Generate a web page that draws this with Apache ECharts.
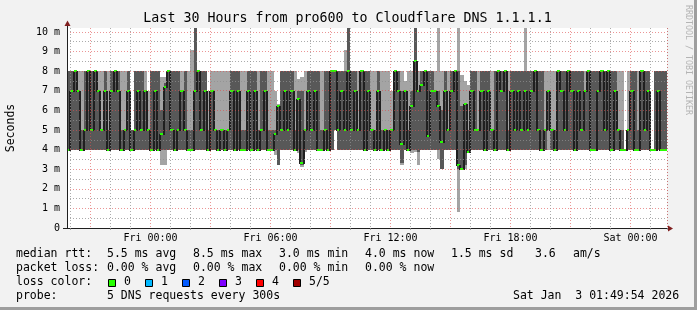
<!DOCTYPE html>
<html><head><meta charset="utf-8">
<script src="https://cdn.jsdelivr.net/npm/echarts@6.0.0/dist/echarts.min.js"></script>
<style>html,body{margin:0;padding:0;background:#f2f2f2;overflow:hidden}#chart{width:697px;height:310px}</style>
</head><body><div id="chart"></div>
<script>
// ---------- data (10-minute slots, Thu 19:50 .. Sat 01:50) ----------
const lo = [
4,4,4,4,4,4,4,4,4,4, 4,4,4,4,4,4,4,4,4,4, 4,4,4,4,4,4,4,4,3.2,3.2, 4,4,4,4,4,4,4,4,4,4,
4,4,4,4,4,4,4,4,4,4, 4,4,4,4,4,4,4,4,4,4, 4,4,3.7,3.2,4,4,4,4,4,3.8, 3.1,3.9,4,4,4,4,4,4,4,4,
5,4,4,4,4,4,4,4,4,4, 4,4,4,4,4,4,4,4,4,4, 3.2,4,4,3.8,3.9,3.2,4,4,4,4, 4,3.5,3,4,4,4,4,0.8,3,3,
3.8,4,4,4,4,4,4,4,4,4, 4,4,4,4,4,4,4,4,4,4, 4,4,4,4,4,4,4,4,4,4, 4,4,4,4,4,4,4,4,4,4,
4,4,4,4,4,4,4,4,4,4, 4,4,4,4,4,4,4,4,4,4];
const q1 = [
4,4,4,4,4,4,4,4,4,4, 4,4,4,4,4,4,4,4,4,4, 4,4,4,4,4,4,4,4,4,4, 4,4,4,4,4,4,4,4,4,4,
4,4,4,4,4,4,4,4,4,4, 4,4,4,4,4,4,4,4,4,4, 4,4,4,3.2,4,4,4,4,4,4, 3.2,4,4,4,4,4,4,4,4,4,
5,4,4,4,4,4,4,4,4,4, 4,4,4,4,4,4,4,4,4,4, 3.3,4,4,4,4,3.9,4,4,4,4, 4,4,3,4,4,4,4,3,3,3.2,
3.9,4,4,4,4,4,4,4,4,4, 4,4,4,4,4,4,4,4,4,4, 4,4,4,4,5,4,4,4,4,4, 4,4,4,4,4,4,4,4,4,4,
4,4,4,4,4,4,4,4,4,4, 4,4,4,4,4,4,4,4,4,4];
const med = [
4,7,8,7,4,5,8,5,8,7, 5,7,4,7,8,7,4,5,7,4, 5,7,5,7,5,4,7,4,4.8,7.2, 8,5,4,5,7,5,4,4,7,8,
5,7,4,7,5,4,5,4,5,7, 4,7,4,4,7,4,7,4,5,7, 4,4,4.8,6.2,5,7,5,7,4,6.6, 3.3,5,7,5,7,4,4,5,4,8,
8,5,7,5,8,5,7,5,8,4, 7,5,4,7,4,5,4,5,8,7, 4.3,7,4,6.2,8.5,7,7.3,8,4.7,7, 7,6.2,4.4,7,5,7,8,3.2,3,6.3,
3.9,7,5,5,7,4,7,5,4,8, 7,8,4,7,5,7,5,7,5,7, 8,5,4,5,7,5,4,8,7,5, 8,7,4,7,5,7,8,4,4,7,
8,5,8,4,7,5,4,4,5,7, 4,4,8,5,7,4,4,7,4,4];
const q3 = [
8,8,8,7,5,8,8,8,8,7, 5,8,5,8,8,8,5,5,8,5, 8,8,8,7,5,8,8,8,6,7.4, 8,8,8,8,7,8,5,5,10.2,8,
8,8,5,7,5,5,5,5,5,8, 8,8,5,5,8,8,8,5,8,8, 5,5,5,6.2,8,8,8,8,5,7, 7,5,8,8,8,8,5,8,8,8,
8,8,8,8,10.2,8,8,5,8,8, 8,5,5,8,5,5,5,5,8,8, 7,7,5,7,10.2,7,8,8,8,8, 7,7,6,8,5,8,8,8,6.2,6.3,
5,8,8,5,8,8,8,5,8,8, 8,8,5,8,8,8,8,8,8,8, 8,8,8,5,7,5,5,8,8,8, 8,8,8,8,8,7,8,8,8,8,
8,8,8,8,8,5,5,4,5,8, 8,5,8,8,8,4,8,8,8,8];
const hi = [
8,8,8,8,8,8,8,8,8,8, 8,8,8,8,8,8,8,8,8,5, 8,8,8,8,7,8,8,8,7.7,7.7, 8,8,8,8,8,8,8,9.1,10.2,8,
8,8,7,8,8,8,8,8,8,8, 8,8,8,8,8,8,8,8,8,8, 8,8,7,6.3,8,8,8,8,8,7.6, 7.7,8,8,8,8,8,8,8,8,8,
8,8,8,9.1,10.2,8,8,8,8,8, 8,8,8,8,8,8,8,7,8,8, 8,7.5,8,8,10.2,8,8,8,8,8, 8,10.2,8,8,8,8,8,10.2,7.8,7.5,
7.3,8,8,8,8,8,8,8,8,8, 8,8,8,8,8,8,8,10.2,8,8, 8,8,8,8,8,8,8,8,8,8, 8,8,8,8,8,8,8,8,8,8,
8,8,8,8,8,8,8,4,8,8, 8,8,8,8,8,4,8,8,8,8];

const tickLabels = ['Fri 00:00','Fri 06:00','Fri 12:00','Fri 18:00','Sat 00:00'];
const yTickLabels = ['0','1 m','2 m','3 m','4 m','5 m','6 m','7 m','8 m','9 m','10 m'];
const titleText = 'Last 30 Hours from pro600 to Cloudflare DNS 1.1.1.1';
const rttStats = ['5.5 ms avg','8.5 ms max','3.0 ms min','4.0 ms now','1.5 ms sd','3.6','am/s'];
const lossStats = ['0.00 % avg','0.00 % max','0.00 % min','0.00 % now'];
const lossLabels = ['0','1','2','3','4','5/5'];
const lossColors = ['#26ff00','#00b8ff','#0059ff','#7e00ff','#ff0000','#a10000'];
const probeText = '5 DNS requests every 300s';
const stampText = 'Sat Jan  3 01:49:54 2026';
const minorY = [0.5,1.5,2.5,3.5,4.5,5.5,6.5,7.5,8.5,9.5];

// ---------- categories (slot start times) ----------
const days = ['Thu','Fri','Sat'];
const startMin = 19*60 + 50;
const pad = n => (n < 10 ? '0' : '') + n;
const categories = lo.map((_, i) => {
  const m = startMin + 10*i;
  const d = Math.floor(m / 1440), r = m % 1440;
  return days[d] + ' ' + pad(Math.floor(r/60)) + ':' + pad(r % 60);
});

const MONO = 'DejaVu Sans Mono';
const GRID_MINOR = 'rgba(143,143,143,0.75)';
const GRID_MAJOR = 'rgba(222,79,79,0.6)';
const isHour = v => typeof v === 'string' && v.endsWith(':00');
const hourOf = v => parseInt(v.slice(4,6), 10);
const minorHour = (i, v) => isHour(v) && hourOf(v) % 3 !== 0;
const majorHour = (i, v) => isHour(v) && hourOf(v) % 3 === 0;

const smokeData = lo.map((_, i) => [i, lo[i], q1[i], q3[i], hi[i]]);
const medData = med.map((v, i) => [i, v, i > 0 ? med[i-1] : v]);

function renderSmoke(params, api) {
  const i = api.value(0);
  const bw = api.size([1, 0])[0];
  const cx = api.coord([i, 0])[0];
  const x0 = Math.round(cx - bw/2), x1 = Math.round(cx + bw/2);
  const y = v => Math.round(api.coord([i, v])[1]);
  const yLo = y(api.value(1)), yQ1 = y(api.value(2)), yQ3 = y(api.value(3)), yHi = y(api.value(4));
  return {type:'group', children:[
    {type:'rect', shape:{x:x0, y:yHi, width:x1-x0, height:yLo-yHi}, style:{fill:'#a4a4a4'}},
    {type:'rect', shape:{x:x0, y:yQ3, width:x1-x0, height:yQ1-yQ3}, style:{fill:'#585858'}}
  ]};
}
function renderMedian(params, api) {
  const i = api.value(0);
  const bw = api.size([1, 0])[0];
  const c = api.coord([i, api.value(1)]);
  const p = api.coord([i, api.value(2)]);
  const x0 = Math.round(c[0] - bw/2), x1 = Math.round(c[0] + bw/2);
  const y = Math.round(c[1]), yp = Math.round(p[1]);
  const kids = [];
  if (y !== yp) kids.push({type:'rect', shape:{x:x0-1, y:Math.min(y, yp), width:2, height:Math.abs(y-yp)+1}, style:{fill:'#202020'}});
  kids.push({type:'rect', shape:{x:x0, y:y-1, width:x1-x0, height:2}, style:{fill:'#26ff00'}});
  return {type:'group', children:kids};
}

function txt(x, y, s, extra) {
  return {type:'text', x:x, y:y, silent:true, style:Object.assign({
    text:s, fill:'#000', font:'11.5px "' + MONO + '"', align:'left', verticalAlign:'middle',
    textAlign:'left', textVerticalAlign:'middle'}, extra || {})};
}

const rttX = [107,193,279,365,451,535,573];
const lossX = [107,193,279,365];
const graphics = [
  {type:'rect', shape:{x:694, y:0, width:3, height:310}, style:{fill:'#9e9e9e'}, silent:true},
  {type:'rect', shape:{x:0, y:307, width:697, height:3}, style:{fill:'#9e9e9e'}, silent:true},
  {type:'text', x:347.5, y:18.5, silent:true, style:{text:titleText, fill:'#000', font:'13.3px "'+MONO+'"', align:'center', verticalAlign:'middle', textAlign:'center', textVerticalAlign:'middle'}},
  {type:'text', x:11, y:128, rotation:Math.PI/2, silent:true, style:{text:'Seconds', fill:'#000', font:'11.5px "'+MONO+'"', align:'center', verticalAlign:'middle', textAlign:'center', textVerticalAlign:'middle'}},
  {type:'text', x:688, y:5, rotation:-Math.PI/2, silent:true, style:{text:'RRDTOOL / TOBI OETIKER', fill:'#b4b4b4', font:'8.3px "'+MONO+'"', align:'left', verticalAlign:'middle', textAlign:'left', textVerticalAlign:'middle'}},
  {type:'rect', shape:{x:63, y:228, width:4, height:1}, style:{fill:'#1f1f1f'}, silent:true},
  {type:'rect', shape:{x:667, y:228, width:2, height:1}, style:{fill:'#1f1f1f'}, silent:true},
  {type:'rect', shape:{x:67, y:23, width:1, height:6}, style:{fill:'#1f1f1f'}, silent:true},
  {type:'polygon', shape:{points:[[668,225.5],[673,228.5],[668,231.5]]}, style:{fill:'#801f1f'}, silent:true},
  {type:'polygon', shape:{points:[[64.5,26],[67.5,20.5],[70.5,26]]}, style:{fill:'#801f1f'}, silent:true},
  txt(16, 254.5, 'median rtt:'),
  txt(16, 268.5, 'packet loss:'),
  txt(16, 282.5, 'loss color:'),
  txt(16, 296.5, 'probe:'),
  txt(107, 296.5, probeText),
  txt(513, 296.5, stampText)
];
rttStats.forEach((s, k) => graphics.push(txt(rttX[k], 254.5, s)));
lossStats.forEach((s, k) => graphics.push(txt(lossX[k], 268.5, s)));
lossLabels.forEach((s, k) => {
  const bx = 108 + 37*k;
  graphics.push({type:'rect', shape:{x:bx+0.5, y:279.5, width:7, height:7}, style:{fill:lossColors[k], stroke:'#000', lineWidth:1}, silent:true});
  graphics.push(txt(bx + 16, 282.5, s));
});

const option = {
  animation: false,
  backgroundColor: '#f2f2f2',
  grid: {left:67, top:28, width:600, height:200, show:true, backgroundColor:'#ffffff', borderWidth:0, borderColor:'transparent'},
  xAxis: [
    {type:'category', data:categories, boundaryGap:true, position:'bottom', z:10,
     axisLine:{show:true, onZero:false, lineStyle:{color:'#1f1f1f', width:1}},
     axisTick:{show:true, length:2, interval:minorHour, lineStyle:{color:GRID_MINOR}},
     axisLabel:{show:true, interval:(i, v) => tickLabels.indexOf(v) >= 0, formatter:v => v,
                fontFamily:MONO, fontSize:10, color:'#000', margin:5, padding:[0,3,0,0]},
     splitLine:{show:true, interval:minorHour, lineStyle:{color:GRID_MINOR, width:1, type:[1,2]}}},
    {type:'category', data:categories, boundaryGap:true, position:'top', z:10,
     axisLine:{show:false}, axisLabel:{show:false}, axisTick:{show:false},
     splitLine:{show:true, interval:majorHour, lineStyle:{color:GRID_MAJOR, width:1, type:[1,2]}}}
  ],
  yAxis: [
    {type:'value', min:0, max:10.2, interval:1, z:10,
     axisLine:{show:true, lineStyle:{color:'#1f1f1f'}}, axisTick:{show:false},
     axisLabel:{fontFamily:MONO, fontSize:10, color:'#000', margin:7, showMaxLabel:false,
                formatter:v => (Math.abs(v - Math.round(v)) < 1e-6 ? (yTickLabels[Math.round(v)] || '') : '')},
     splitLine:{show:true, showMinLine:false, showMaxLine:false, lineStyle:{color:GRID_MAJOR, width:1, type:[1,2]}}}
  ],
  series: [
    {type:'custom', name:'smoke', xAxisIndex:0, yAxisIndex:0, z:2, clip:true,
     renderItem:renderSmoke, encode:{x:0, y:[1,2,3,4]}, data:smokeData},
    {type:'custom', name:'median', xAxisIndex:0, yAxisIndex:0, z:3, clip:true,
     renderItem:renderMedian, encode:{x:0, y:[1,2]}, data:medData},
    {type:'line', name:'minorgrid', xAxisIndex:0, yAxisIndex:0, z:4, data:[], silent:true,
     markLine:{silent:true, symbol:['none','none'], animation:false, label:{show:false},
       lineStyle:{color:GRID_MINOR, width:1, type:[1,2]}, emphasis:{disabled:true},
       data:minorY.map(v => ({yAxis:v}))}}
  ],
  graphic: graphics
};
const chart = echarts.init(document.getElementById('chart'), null, {renderer:'canvas'});
chart.setOption(option);
</script></body></html>
